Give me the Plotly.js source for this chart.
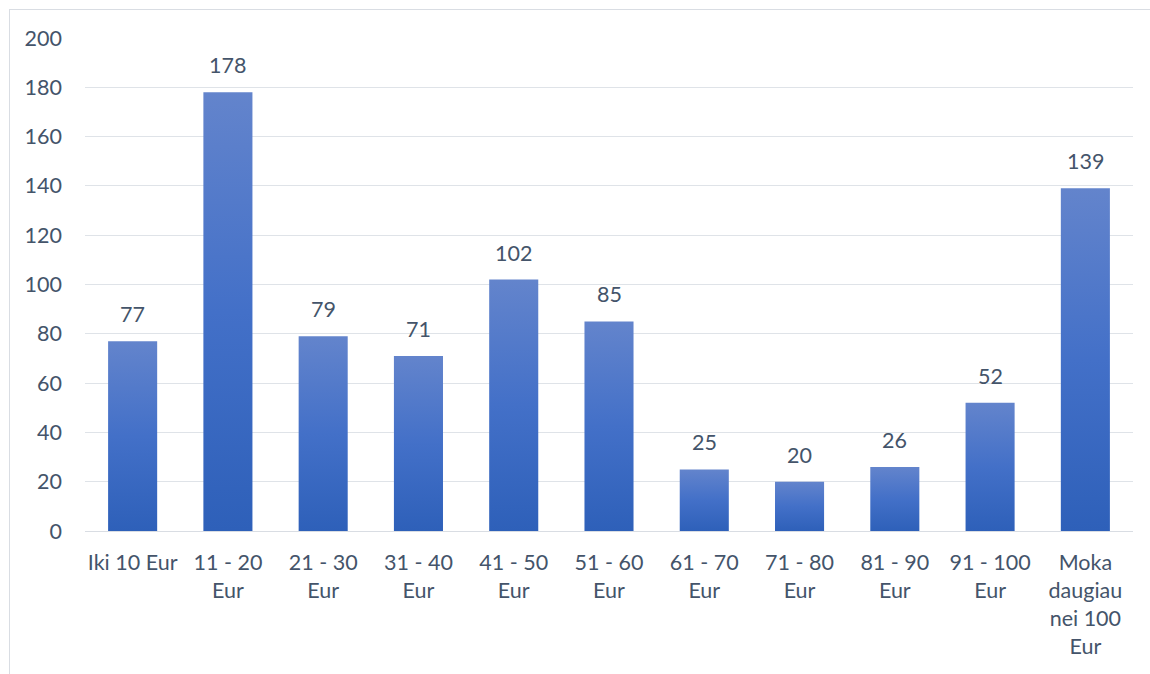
<!DOCTYPE html>
<html>
<head>
<meta charset="utf-8">
<script src="https://cdn.plot.ly/plotly-3.0.1.min.js"></script>
<style>
html,body{margin:0;padding:0;background:#fff;overflow:hidden;}
#chart{width:1150px;height:674px;position:relative;}
#frame{position:absolute;left:9px;top:9px;width:1300px;height:800px;border:1px solid #d9dde3;pointer-events:none;box-sizing:border-box;}
</style>
</head>
<body>
<div id="chart"></div>
<div id="frame"></div>
<script>
const categories = ["Iki 10 Eur", "11 - 20<br>Eur", "21 - 30<br>Eur", "31 - 40<br>Eur", "41 - 50<br>Eur", "51 - 60<br>Eur", "61 - 70<br>Eur", "71 - 80<br>Eur", "81 - 90<br>Eur", "91 - 100<br>Eur", "Moka<br>daugiau<br>nei 100<br>Eur"];
const values = [77, 178, 79, 71, 102, 85, 25, 20, 26, 52, 139];
const yTicks = [0, 20, 40, 60, 80, 100, 120, 140, 160, 180, 200];

const textColor = "#44546a";
const fontFam = "Lato, Open Sans, sans-serif";
const fs = 21.5;

const trace = {
  type: "bar",
  x: categories,
  y: values,
  marker: {color: "#4472c4", line: {width: 0}},
  hoverinfo: "none"
};

const labels = categories.map(function(c, i){
  return {
    x: c, y: values[i], xref: "x", yref: "y",
    text: String(values[i]),
    showarrow: false,
    yanchor: "middle",
    yshift: 27,
    font: {family: fontFam, size: fs, color: textColor}
  };
});

const layout = {
  width: 1150,
  height: 674,
  margin: {l: 85, r: 17, t: 38, b: 143},
  paper_bgcolor: "#ffffff",
  plot_bgcolor: "#ffffff",
  bargap: 0.485,
  showlegend: false,
  font: {family: fontFam, size: fs, color: textColor},
  annotations: labels,
  xaxis: {
    type: "category",
    showgrid: false,
    showline: true,
    linecolor: "#d9dde3",
    linewidth: 1,
    ticks: "",
    tickfont: {family: fontFam, size: fs, color: textColor},
    ticklabelstandoff: 12,
    fixedrange: true
  },
  yaxis: {
    range: [0, 200],
    tickvals: yTicks,
    ticktext: yTicks.map(String),
    showgrid: true,
    gridcolor: "#dfe3e8",
    gridwidth: 1,
    zeroline: false,
    showline: false,
    ticks: "",
    ticklabelstandoff: 22,
    tickfont: {family: fontFam, size: fs, color: textColor},
    fixedrange: true
  }
};

Plotly.newPlot("chart", [trace], layout, {displayModeBar: false, staticPlot: true}).then(function(gd){
  const svg = gd.querySelector("svg.main-svg");
  const ns = "http://www.w3.org/2000/svg";
  let defs = svg.querySelector("defs");
  if (!defs) { defs = document.createElementNS(ns, "defs"); svg.insertBefore(defs, svg.firstChild); }
  const grad = document.createElementNS(ns, "linearGradient");
  grad.setAttribute("id", "barGrad");
  grad.setAttribute("x1", "0"); grad.setAttribute("y1", "0");
  grad.setAttribute("x2", "0"); grad.setAttribute("y2", "1");
  [["0%", "#6384cc"], ["50%", "#4370c8"], ["100%", "#2e60b9"]].forEach(function(s){
    const st = document.createElementNS(ns, "stop");
    st.setAttribute("offset", s[0]);
    st.setAttribute("stop-color", s[1]);
    grad.appendChild(st);
  });
  defs.appendChild(grad);
  gd.querySelectorAll(".bars .point path").forEach(function(p){
    p.style.fill = "url(#barGrad)";
  });
});
</script>
</body>
</html>
